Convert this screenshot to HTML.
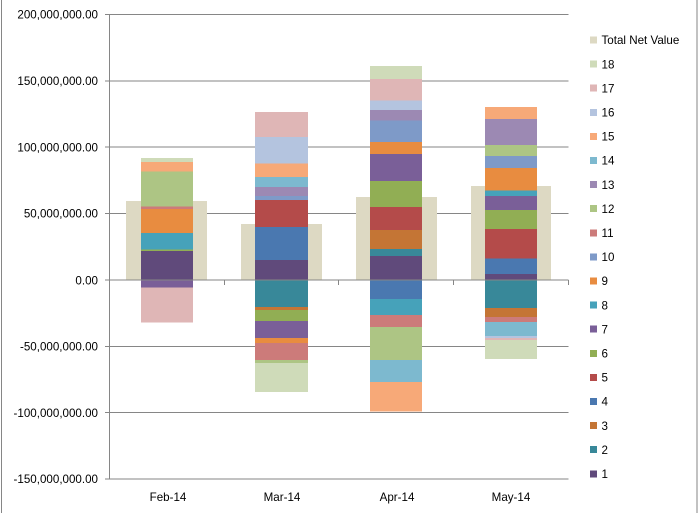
<!DOCTYPE html>
<html><head><meta charset="utf-8"><style>
html,body{margin:0;padding:0;background:#fff;}
svg{display:block;}
text{font-family:"Liberation Sans",Arial,sans-serif;font-size:11.6px;fill:#000;}
</style></head><body>
<svg width="700" height="513" viewBox="0 0 700 513" xmlns="http://www.w3.org/2000/svg">
<rect x="0" y="0" width="700" height="513" fill="#fff"/>
<line x1="1.5" y1="0" x2="1.5" y2="513" stroke="#868686" stroke-width="1"/>
<line x1="697" y1="0" x2="697" y2="513" stroke="#868686" stroke-width="1"/>
<g stroke="#868686" stroke-width="1" shape-rendering="crispEdges">
<line x1="105" y1="14.5" x2="568.5" y2="14.5"/>
<line x1="105" y1="80.9" x2="568.5" y2="80.9"/>
<line x1="105" y1="147.2" x2="568.5" y2="147.2"/>
<line x1="105" y1="213.6" x2="568.5" y2="213.6"/>
<line x1="105" y1="346.3" x2="568.5" y2="346.3"/>
<line x1="105" y1="412.7" x2="568.5" y2="412.7"/>
<line x1="105" y1="479" x2="568.5" y2="479"/>
</g>
<g shape-rendering="crispEdges">
<!-- Total net value bars -->
<rect x="126" y="201" width="81" height="79" fill="#ddd9c3"/>
<rect x="241" y="224" width="81" height="56" fill="#ddd9c3"/>
<rect x="356" y="197" width="81" height="83" fill="#ddd9c3"/>
<rect x="471" y="186" width="80" height="94" fill="#ddd9c3"/>
<!-- Feb -->
<rect x="141" y="158" width="52" height="4" fill="#cfdbb9"/>
<rect x="141" y="162" width="52" height="9.7" fill="#f7a978"/>
<rect x="141" y="171.7" width="52" height="35" fill="#adc584"/>
<rect x="141" y="206.7" width="52" height="2.3" fill="#cc7b7a"/>
<rect x="141" y="209" width="52" height="24" fill="#e88c40"/>
<rect x="141" y="233" width="52" height="16.7" fill="#46a2ba"/>
<rect x="141" y="249.7" width="52" height="1.3" fill="#91ae54"/>
<rect x="141" y="251" width="52" height="29" fill="#604a7b"/>
<rect x="141" y="280" width="52" height="7.7" fill="#7a5f98"/>
<rect x="141" y="287.7" width="52" height="35" fill="#dfb6b6"/>
<!-- Mar -->
<rect x="255" y="112" width="53" height="25" fill="#dfb6b6"/>
<rect x="255" y="137" width="53" height="26.7" fill="#b4c4df"/>
<rect x="255" y="163.7" width="53" height="13.3" fill="#f7a978"/>
<rect x="255" y="177" width="53" height="10" fill="#7db9cf"/>
<rect x="255" y="187" width="53" height="9" fill="#9c89b3"/>
<rect x="255" y="196" width="53" height="4" fill="#7e9ac8"/>
<rect x="255" y="200" width="53" height="27" fill="#b44b4a"/>
<rect x="255" y="227" width="53" height="33" fill="#4a78b0"/>
<rect x="255" y="260" width="53" height="20" fill="#604a7b"/>
<rect x="255" y="280" width="53" height="27" fill="#388899"/>
<rect x="255" y="307" width="53" height="3" fill="#c47535"/>
<rect x="255" y="310" width="53" height="11" fill="#91ae54"/>
<rect x="255" y="321" width="53" height="17" fill="#7a5f98"/>
<rect x="255" y="338" width="53" height="5" fill="#e88c40"/>
<rect x="255" y="343" width="53" height="17" fill="#cc7b7a"/>
<rect x="255" y="360" width="53" height="3" fill="#adc584"/>
<rect x="255" y="363" width="53" height="29" fill="#cfdbb9"/>
<!-- Apr -->
<rect x="370" y="66" width="52" height="13" fill="#cfdbb9"/>
<rect x="370" y="79" width="52" height="21.7" fill="#dfb6b6"/>
<rect x="370" y="100.7" width="52" height="9.3" fill="#b4c4df"/>
<rect x="370" y="110" width="52" height="10.7" fill="#9c89b3"/>
<rect x="370" y="120.7" width="52" height="21.3" fill="#7e9ac8"/>
<rect x="370" y="142" width="52" height="12" fill="#e88c40"/>
<rect x="370" y="154" width="52" height="27" fill="#7a5f98"/>
<rect x="370" y="181" width="52" height="26" fill="#91ae54"/>
<rect x="370" y="207" width="52" height="23" fill="#b44b4a"/>
<rect x="370" y="230" width="52" height="19" fill="#c47535"/>
<rect x="370" y="249" width="52" height="7" fill="#388899"/>
<rect x="370" y="256" width="52" height="24" fill="#604a7b"/>
<rect x="370" y="280" width="52" height="19" fill="#4a78b0"/>
<rect x="370" y="299" width="52" height="16" fill="#46a2ba"/>
<rect x="370" y="315" width="52" height="12" fill="#cc7b7a"/>
<rect x="370" y="327" width="52" height="33" fill="#adc584"/>
<rect x="370" y="360" width="52" height="22" fill="#7db9cf"/>
<rect x="370" y="382" width="52" height="29.7" fill="#f7a978"/>
<!-- May -->
<rect x="485" y="107" width="52" height="12" fill="#f7a978"/>
<rect x="485" y="119" width="52" height="26" fill="#9c89b3"/>
<rect x="485" y="145" width="52" height="11" fill="#adc584"/>
<rect x="485" y="156" width="52" height="12" fill="#7e9ac8"/>
<rect x="485" y="168" width="52" height="22.3" fill="#e88c40"/>
<rect x="485" y="190.3" width="52" height="5.7" fill="#46a2ba"/>
<rect x="485" y="196" width="52" height="14" fill="#7a5f98"/>
<rect x="485" y="210" width="52" height="19" fill="#91ae54"/>
<rect x="485" y="229" width="52" height="29.7" fill="#b44b4a"/>
<rect x="485" y="258.7" width="52" height="15.3" fill="#4a78b0"/>
<rect x="485" y="274" width="52" height="6" fill="#604a7b"/>
<rect x="485" y="280" width="52" height="28" fill="#388899"/>
<rect x="485" y="308" width="52" height="9" fill="#c47535"/>
<rect x="485" y="317" width="52" height="5" fill="#cc7b7a"/>
<rect x="485" y="322" width="52" height="14" fill="#7db9cf"/>
<rect x="485" y="336" width="52" height="2" fill="#b4c4df"/>
<rect x="485" y="338" width="52" height="2" fill="#dfb6b6"/>
<rect x="485" y="340" width="52" height="19" fill="#cfdbb9"/>
</g>
<g stroke="#868686" stroke-width="1" shape-rendering="crispEdges">
<line x1="109.5" y1="14.5" x2="109.5" y2="479"/>
<line x1="105" y1="280" x2="568.5" y2="280"/>
<line x1="224.5" y1="280" x2="224.5" y2="285"/>
<line x1="338.5" y1="280" x2="338.5" y2="285"/>
<line x1="453.5" y1="280" x2="453.5" y2="285"/>
<line x1="568.5" y1="280" x2="568.5" y2="285"/>
</g>
<g text-anchor="end">
<text x="98" y="18.6">200,000,000.00</text>
<text x="98" y="85">150,000,000.00</text>
<text x="98" y="151.3">100,000,000.00</text>
<text x="98" y="217.7">50,000,000.00</text>
<text x="98" y="284.6">0.00</text>
<text x="98" y="350.4">-50,000,000.00</text>
<text x="98" y="416.8">-100,000,000.00</text>
<text x="98" y="483.1">-150,000,000.00</text>
</g>
<g text-anchor="middle">
<text x="168" y="501">Feb-14</text>
<text x="282" y="501">Mar-14</text>
<text x="397" y="501">Apr-14</text>
<text x="511" y="501">May-14</text>
</g>
<g shape-rendering="crispEdges">
<rect x="590" y="36.5" width="7" height="7" fill="#ddd9c3"/>
<rect x="590" y="60.6" width="7" height="7" fill="#cfdbb9"/>
<rect x="590" y="84.7" width="7" height="7" fill="#dfb6b6"/>
<rect x="590" y="108.8" width="7" height="7" fill="#b4c4df"/>
<rect x="590" y="132.9" width="7" height="7" fill="#f7a978"/>
<rect x="590" y="157" width="7" height="7" fill="#7db9cf"/>
<rect x="590" y="181.1" width="7" height="7" fill="#9c89b3"/>
<rect x="590" y="205.2" width="7" height="7" fill="#adc584"/>
<rect x="590" y="229.3" width="7" height="7" fill="#cc7b7a"/>
<rect x="590" y="253.4" width="7" height="7" fill="#7e9ac8"/>
<rect x="590" y="277.5" width="7" height="7" fill="#e88c40"/>
<rect x="590" y="301.6" width="7" height="7" fill="#46a2ba"/>
<rect x="590" y="325.7" width="7" height="7" fill="#7a5f98"/>
<rect x="590" y="349.8" width="7" height="7" fill="#91ae54"/>
<rect x="590" y="373.9" width="7" height="7" fill="#b44b4a"/>
<rect x="590" y="398" width="7" height="7" fill="#4a78b0"/>
<rect x="590" y="422.1" width="7" height="7" fill="#c47535"/>
<rect x="590" y="446.2" width="7" height="7" fill="#388899"/>
<rect x="590" y="470.3" width="7" height="7" fill="#604a7b"/>
</g>
<g>
<text x="601.5" y="44.2">Total Net Value</text>
<text x="601.5" y="68.3">18</text>
<text x="601.5" y="92.4">17</text>
<text x="601.5" y="116.5">16</text>
<text x="601.5" y="140.6">15</text>
<text x="601.5" y="164.7">14</text>
<text x="601.5" y="188.8">13</text>
<text x="601.5" y="212.9">12</text>
<text x="601.5" y="237">11</text>
<text x="601.5" y="261.1">10</text>
<text x="601.5" y="285.2">9</text>
<text x="601.5" y="309.3">8</text>
<text x="601.5" y="333.4">7</text>
<text x="601.5" y="357.5">6</text>
<text x="601.5" y="381.6">5</text>
<text x="601.5" y="405.7">4</text>
<text x="601.5" y="429.8">3</text>
<text x="601.5" y="453.9">2</text>
<text x="601.5" y="478">1</text>
</g>
</svg>
</body></html>
